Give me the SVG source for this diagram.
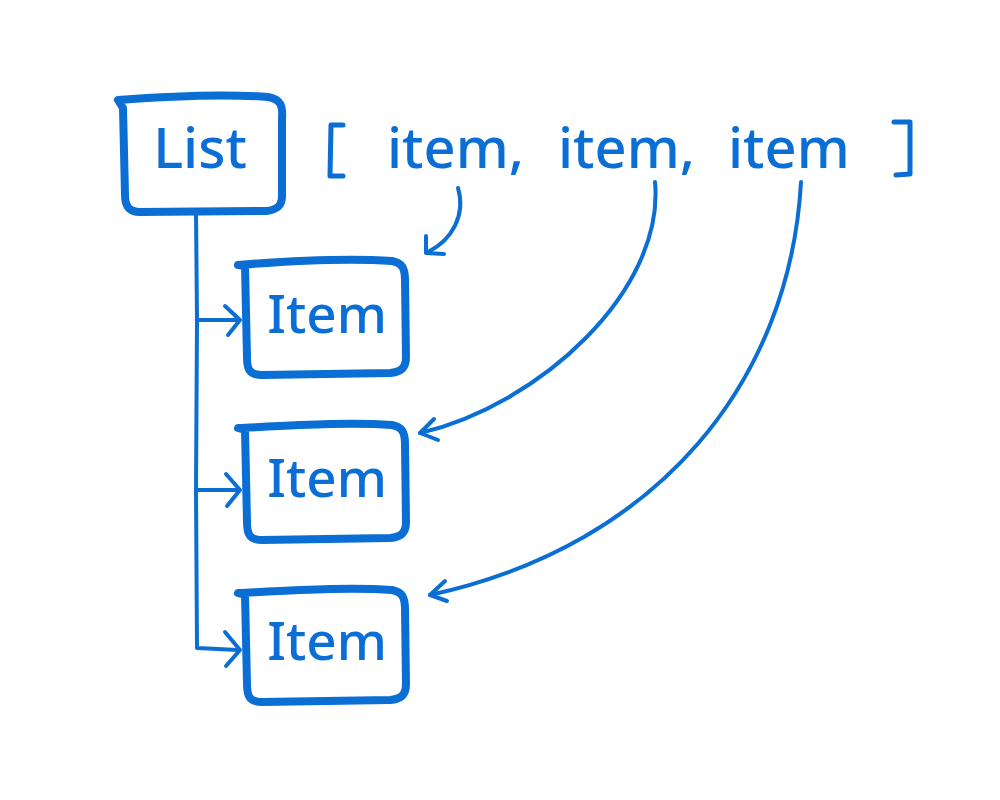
<svg xmlns="http://www.w3.org/2000/svg" width="1000" height="800" viewBox="0 0 1000 800">
<style>
.box{fill:none;stroke:#0b6ed4;stroke-width:8;stroke-linecap:round;stroke-linejoin:round}
.ln{fill:none;stroke:#0b6ed4;stroke-width:4;stroke-linecap:round;stroke-linejoin:round}
.t{font-family:"Noto Sans","DejaVu Sans",sans-serif;fill:#0b6ed4;font-size:56px;font-weight:500}
.ti{font-size:53px}
.br{fill:none;stroke:#0b6ed4;stroke-width:5;stroke-linecap:round;stroke-linejoin:round}
</style>
<rect width="1000" height="800" fill="#ffffff"/>
<g id="connectors">
<path class="ln" d="M196 212 L197 320 L196 490 L197 648 L238 650"/>
<path class="ln" d="M197 320 L238 320"/>
<path class="ln" d="M197 490 L238 490"/>
<path class="ln" d="M225 306 L240 320 L228 335"/>
<path class="ln" d="M226 474 L240 490 L227 506"/>
<path class="ln" d="M225 632 L240 650 L226 666"/>
<path class="ln" d="M458 188 C466 215 452 240 428 252"/>
<path class="ln" d="M426 236 L426 253 L444 254"/>
<path class="ln" d="M655 182 C665 290 540 405 420 433"/>
<path class="ln" d="M434 419 L420 433 L438 440"/>
<path class="ln" d="M801 182 C790 380 660 545 430 595"/>
<path class="ln" d="M445 581 L430 595 L447 601"/>
</g>
<g id="list">
<path class="box" d="M118 100 C170 96 230 94 268 97 C280 99 283 105 282 118 L282 196 C282 206 277 210 266 211 L140 212 C128 212 125 205 125 195 L123 108 Z"/>
<text class="t" x="200" y="168" text-anchor="middle">List</text>
</g>
<g id="array">
<path class="br" d="M343 125 L331 125 L330 176 L343 176"/>
<text class="t" x="387" y="168">item,</text>
<text class="t" x="558" y="168">item,</text>
<text class="t" x="728" y="168">item</text>
<path class="br" d="M894 122 L910 122 L910 174 L896 175"/>
</g>
<g id="item1">
<path class="box" d="M238 265 C300 260 350 258 392 261 C402 263 405 268 405 280 L406 357 C406 368 401 372 390 373 L262 375 C250 375 247 370 247 358 L245 266 Z"/>
<text class="t ti" x="327" y="333" text-anchor="middle">Item</text>
</g>
<g id="item2">
<path class="box" d="M238 428 C300 425 350 422 392 425 C402 427 405 432 405 444 L406 522 C406 533 401 537 390 538 L262 540 C250 540 247 535 247 522 L245 430 Z"/>
<text class="t ti" x="327" y="497" text-anchor="middle">Item</text>
</g>
<g id="item3">
<path class="box" d="M238 593 C300 590 350 587 392 590 C402 592 405 597 405 609 L406 684 C406 695 401 699 390 700 L262 702 C250 702 247 697 247 684 L245 595 Z"/>
<text class="t ti" x="327" y="660" text-anchor="middle">Item</text>
</g>
</svg>
